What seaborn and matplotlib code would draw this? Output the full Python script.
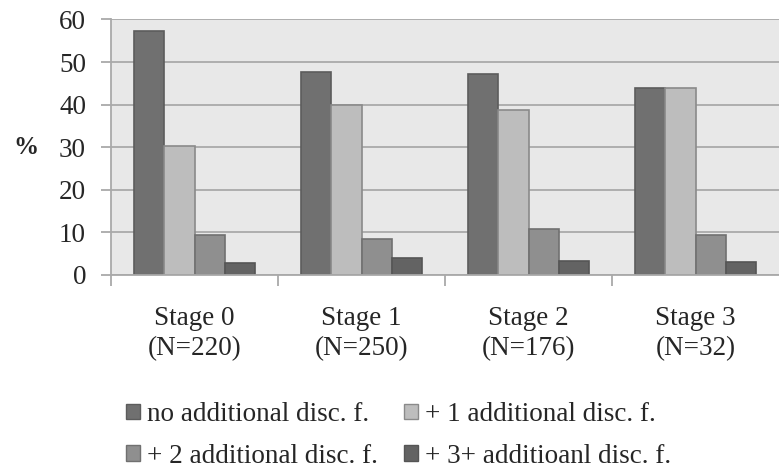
import matplotlib
matplotlib.use("Agg")
import matplotlib.pyplot as plt
import seaborn as sns
import pandas as pd
import numpy as np

stages = ["Stage 0\n(N=220)", "Stage 1\n(N=250)", "Stage 2\n(N=176)", "Stage 3\n(N=32)"]
groups = ["no additional disc. f.", "+ 1 additional disc. f.",
          "+ 2 additional disc. f.", "+ 3+ additioanl disc. f."]
no_additional = [57.3, 47.7, 47.3, 43.8]
plus_one = [30.4, 40.0, 38.7, 43.8]
plus_two = [9.4, 8.4, 10.8, 9.3]
plus_three = [2.7, 4.1, 3.4, 3.0]
y_ticks = [0, 10, 20, 30, 40, 50, 60]

colors = ["#707070", "#bdbdbd", "#8f8f8f", "#636363"]
edges = ["#5c5c5c", "#8a8a8a", "#707070", "#555555"]

rows = []
for g, vals in zip(groups, [no_additional, plus_one, plus_two, plus_three]):
    for s, v in zip(stages, vals):
        rows.append({"stage": s, "group": g, "pct": v})
df = pd.DataFrame(rows)

sns.set_style("white")
plt.rcParams["font.family"] = ["Liberation Serif", "DejaVu Serif"]

fig = plt.figure(figsize=(7.79, 4.72), dpi=100)
ax = fig.add_axes([0.1425, 0.4174, 0.8575, 0.5413])

sns.barplot(data=df, x="stage", y="pct", hue="group", order=stages,
            hue_order=groups, palette=colors, width=0.73, gap=0,
            saturation=1, linewidth=1.2, ax=ax, legend=False)

# per-series edge colors
for cont, ec in zip(ax.containers, edges):
    for bar in cont:
        bar.set_edgecolor(ec)

ax.set_facecolor("#e8e8e8")
ax.set_ylim(0, 60)
ax.set_xlim(-0.5, 3.5)
ax.set_yticks(y_ticks)
ax.set_yticklabels([str(t) for t in y_ticks], fontsize=19.5)
ax.yaxis.grid(True, color="#a9a9a9", linewidth=1.3)
ax.set_axisbelow(True)

for side in ["top", "right"]:
    ax.spines[side].set_visible(False)
for side in ["left", "bottom"]:
    ax.spines[side].set_color("#a9a9a9")
    ax.spines[side].set_linewidth(1.3)

ax.tick_params(axis="y", which="major", direction="out", length=7, width=1.3,
               color="#a9a9a9", pad=11, left=True)
ax.set_xticks(range(len(stages)))
ax.set_xticklabels(stages, fontsize=19.5, linespacing=1.3)
ax.tick_params(axis="x", which="major", length=0, pad=22)
ax.set_xticks(np.arange(-0.5, 3.0, 1.0), minor=True)
ax.tick_params(axis="x", which="minor", direction="out", length=8, width=1.3,
               color="#a9a9a9", bottom=True)

ax.set_xlabel("")
ax.set_ylabel("%", fontsize=18, fontweight="bold", rotation=0, labelpad=24, va="center")

handles = [plt.Rectangle((0, 0), 1, 1, facecolor=c, edgecolor=e, linewidth=1)
           for c, e in zip(colors, edges)]
order = [0, 2, 1, 3]
fig.legend([handles[i] for i in order], [groups[i] for i in order], ncol=2,
           loc="upper left", bbox_to_anchor=(0.1617, 0.148), frameon=False,
           fontsize=19.5, handlelength=0.52, handleheight=0.52, handletextpad=0.26,
           columnspacing=0.95, labelspacing=0.62, borderaxespad=0, borderpad=0)

fig.savefig("out.png", dpi=100, facecolor="white")
